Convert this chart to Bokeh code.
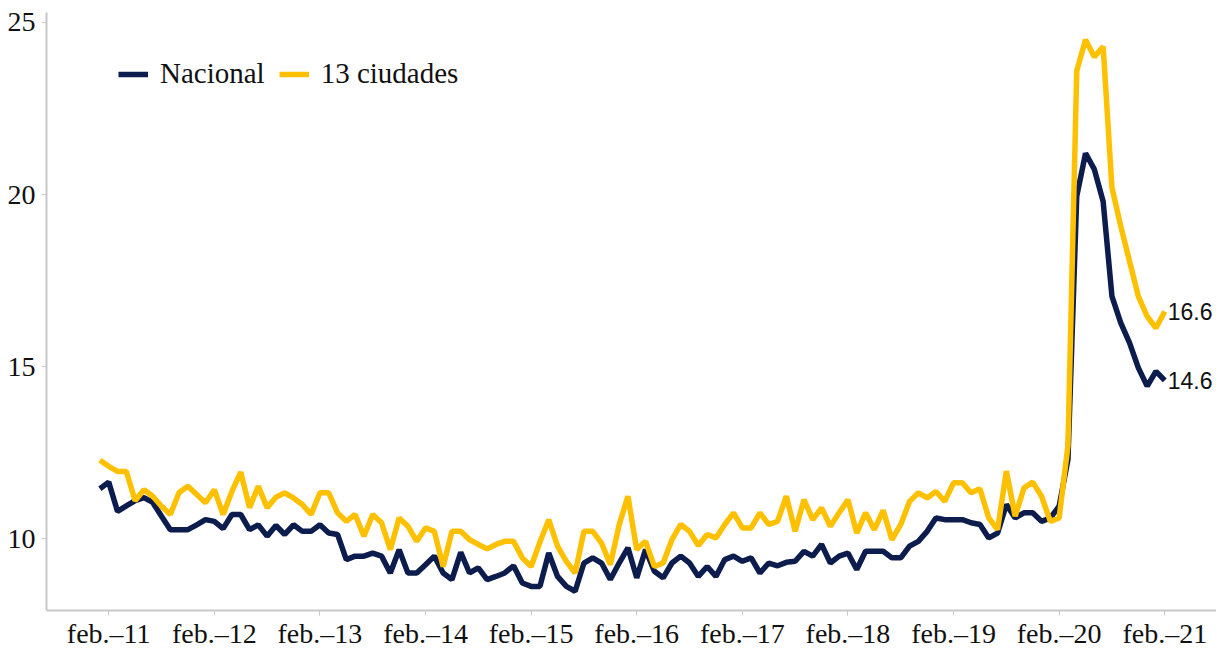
from bokeh.plotting import figure
from bokeh.models import Range1d, FixedTicker, Legend, LegendItem
from bokeh.embed import file_html
from bokeh.resources import INLINE
from bokeh.core.properties import value

# Monthly unemployment rate (%), Jan-2011 ... Feb-2021
nacional = [
    11.45, 11.64, 10.79, 10.95, 11.10, 11.19, 11.05, 10.65, 10.26, 10.26, 10.26, 10.40,
    10.55, 10.50, 10.29, 10.70, 10.70, 10.26, 10.40, 10.07, 10.38, 10.12, 10.40, 10.21,
    10.21, 10.40, 10.16, 10.12, 9.39, 9.49, 9.49, 9.58, 9.49, 9.00, 9.68, 9.00,
    9.00, 9.24, 9.49, 9.00, 8.81, 9.60, 9.00, 9.15, 8.81, 8.90, 9.00, 9.21,
    8.71, 8.61, 8.61, 9.58, 8.90, 8.61, 8.47, 9.29, 9.44, 9.29, 8.81, 9.29,
    9.73, 8.86, 9.68, 9.05, 8.86, 9.29, 9.49, 9.29, 8.90, 9.19, 8.90, 9.39,
    9.49, 9.34, 9.44, 9.00, 9.29, 9.21, 9.31, 9.34, 9.63, 9.49, 9.83, 9.29,
    9.49, 9.58, 9.10, 9.63, 9.63, 9.63, 9.44, 9.44, 9.78, 9.92, 10.21, 10.60,
    10.55, 10.55, 10.55, 10.46, 10.41, 10.02, 10.16, 10.99, 10.60, 10.75, 10.75, 10.50,
    10.60, 10.94, 12.30, 19.95, 21.20, 20.73, 19.80, 17.04, 16.27, 15.69, 14.96, 14.43,
    14.86, 14.60,
]
ciudades13 = [
    12.28, 12.10, 11.95, 11.95, 11.10, 11.42, 11.23, 10.94, 10.70, 11.34, 11.52, 11.28,
    11.04, 11.42, 10.70, 11.37, 11.93, 10.90, 11.52, 10.90, 11.20, 11.33, 11.18, 10.99,
    10.70, 11.33, 11.33, 10.75, 10.50, 10.70, 10.07, 10.70, 10.46, 9.68, 10.60, 10.36,
    9.92, 10.31, 10.21, 9.19, 10.21, 10.21, 9.97, 9.83, 9.70, 9.83, 9.92, 9.92,
    9.44, 9.19, 9.90, 10.55, 9.78, 9.34, 9.00, 10.21, 10.21, 9.87, 9.24, 10.40,
    11.23, 9.68, 9.92, 9.19, 9.29, 9.97, 10.41, 10.21, 9.80, 10.12, 10.02, 10.41,
    10.75, 10.31, 10.31, 10.75, 10.41, 10.50, 11.23, 10.21, 11.13, 10.55, 10.89, 10.36,
    10.75, 11.13, 10.16, 10.75, 10.26, 10.82, 9.97, 10.41, 11.08, 11.33, 11.18, 11.37,
    11.08, 11.62, 11.62, 11.33, 11.45, 10.60, 10.26, 11.96, 10.65, 11.47, 11.64, 11.23,
    10.50, 10.60, 12.70, 23.60, 24.50, 24.00, 24.30, 20.20, 19.08, 18.06, 17.04, 16.46,
    16.12, 16.60,
]
series_names = ["Nacional", "13 ciudades"]
series_colors = ["#0b1c4d", "#ffc000"]
tick_labels = ["feb.–11", "feb.–12", "feb.–13", "feb.–14", "feb.–15", "feb.–16",
               "feb.–17", "feb.–18", "feb.–19", "feb.–20", "feb.–21"]
y_ticks = [10, 15, 20, 25]

month_index = list(range(len(nacional)))  # 0 = ene-11
tick_pos = [1 + 12 * i for i in range(len(tick_labels))]  # every February

SERIF = "Liberation Serif"

p = figure(width=1216, height=651, output_backend="svg", toolbar_location=None,
           x_range=Range1d(-6.07, 126.88), y_range=Range1d(7.91, 25.29),
           min_border_left=46, min_border_right=0, min_border_top=12,
           min_border_bottom=41)
p.outline_line_color = None
p.grid.visible = False
p.background_fill_color = "white"

for ax in (p.xaxis[0], p.yaxis[0]):
    ax.axis_line_color = "#c8c8c8"
    ax.axis_line_width = 2
    ax.major_tick_line_color = "#c8c8c8"
    ax.major_tick_line_width = 1
    ax.major_tick_in = 0
    ax.major_tick_out = 5
    ax.minor_tick_line_color = None
    ax.major_label_text_font = SERIF
    ax.major_label_text_color = "#111111"
    ax.major_label_text_font_size = "28px"

p.xaxis.ticker = FixedTicker(ticks=tick_pos)
p.xaxis.major_label_overrides = {t: l for t, l in zip(tick_pos, tick_labels)}
p.xaxis.major_label_standoff = 2
p.yaxis.ticker = FixedTicker(ticks=y_ticks)
p.yaxis.major_label_standoff = 6

r1 = p.line(month_index, nacional, line_color=series_colors[0], line_width=5.5)
r2 = p.line(month_index, ciudades13, line_color=series_colors[1], line_width=5.5)

last_x = [month_index[-1], month_index[-1]]
last_y = [nacional[-1], ciudades13[-1]]
p.text(x=last_x, y=last_y, text=[f"{v:.1f}" for v in last_y],
       x_offset=3, text_baseline="middle", text_align="left",
       text_font=value("Liberation Sans"), text_font_size="23px",
       text_color="#111111")

legend = Legend(items=[LegendItem(label=series_names[0], renderers=[r1]),
                       LegendItem(label=series_names[1], renderers=[r2])],
                orientation="horizontal", location=(72, 520),
                padding=0, margin=0, spacing=14,
                glyph_width=30, glyph_height=20, label_standoff=12,
                label_text_font=SERIF, label_text_font_size="29px",
                label_text_color="#111111",
                background_fill_alpha=0, border_line_color=None)
p.add_layout(legend)

open("out.html", "w").write(file_html(p, INLINE))
